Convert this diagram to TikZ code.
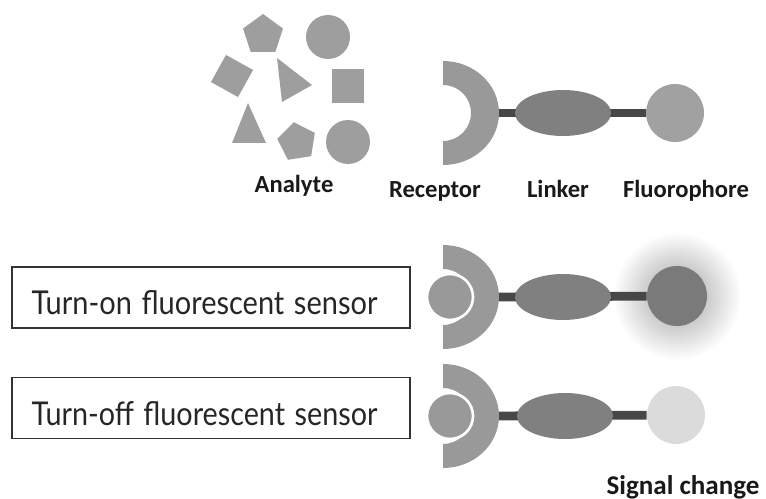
\documentclass[tikz,border=0pt]{standalone}
\usepackage{fontspec}
\setmainfont{Carlito}
\newfontfamily\boxfont{Lato}
\usetikzlibrary{shapes.geometric,backgrounds}

\begin{document}
\begin{tikzpicture}[x=0.02cm, y=0.02cm,
  ana/.style = {fill=black!38, inner sep=0pt},
  rec/.style = {fill=black!40},
  rod/.style = {line width=5pt, draw=black!72},
  lnk/.style = {ellipse, fill=black!50, minimum width=1.92cm, minimum height=0.92cm, inner sep=0pt},
  flu/.style = {circle, fill=black!37, minimum size=1.16cm, inner sep=0pt},
  bound/.style = {circle, fill=black!40, draw=white, line width=1.5pt, minimum size=0.92cm, inner sep=0pt},
  lab/.style = {anchor=base, font=\bfseries\fontsize{14}{16}\selectfont, text=black!90},
  sensorbox/.style = {draw=black!80, line width=0.8pt, text width=7.18cm, align=left, inner xsep=0.39cm, inner ysep=0pt,
    text height=0.96cm, text depth=0.26cm, font=\boxfont, text=black!85}]
  \useasboundingbox (0,0) rectangle (766,-499);

  % analytes
  \node[ana, regular polygon, regular polygon sides=5, minimum size=0.84cm] (pent1) at (263,-35) {};
  \node[ana, circle, minimum size=0.88cm] (circ1) at (328,-37) {};
  \node[ana, rectangle, minimum size=0.62cm, rotate=-29] (squ1) at (232,-76) {};
  \fill[ana] (277,-58) -- (312,-85) -- (282,-102) -- cycle;
  \node[ana, rectangle, minimum width=0.64cm, minimum height=0.68cm] (squ2) at (348,-86) {};
  \fill[ana] (248,-103) -- (266,-143) -- (232,-143) -- cycle;
  \node[ana, regular polygon, regular polygon sides=5, minimum size=0.8cm, rotate=9] (pent2) at (297,-142) {};
  \node[ana, circle, minimum size=0.88cm] (circ2) at (348,-142) {};

  % sensor alone
  \fill[rec] (443,-61) arc[start angle=90, end angle=-90, x radius=56, y radius=52]
    -- (443,-141) arc[start angle=-90, end angle=90, radius=28] -- cycle;
  \coordinate (rec0) at (496,-113);
  \node[lnk] (lnk0) at (563,-113) {};
  \node[flu] (flu0) at (675,-113) {};

  % turn-on
  \fill[rec] (443,-245) arc[start angle=90, end angle=-90, x radius=56, y radius=52]
    -- (443,-325) arc[start angle=-90, end angle=90, radius=28] -- cycle;
  \node[bound] (an1) at (450,-297) {};
  \coordinate (rec1) at (496,-297);
  \node[lnk] (lnk1) at (563,-297) {};
  \node[flu, fill=black!52, minimum size=1.2cm] (flu1) at (677,-296) {};

  % turn-off
  \fill[rec] (443,-364) arc[start angle=90, end angle=-90, x radius=56, y radius=52]
    -- (443,-444) arc[start angle=-90, end angle=90, radius=28] -- cycle;
  \node[bound] (an2) at (450,-416) {};
  \coordinate (rec2) at (496,-416);
  \node[lnk] (lnk2) at (565,-416) {};
  \node[flu, fill=black!14] (flu2) at (676,-415) {};

  \begin{scope}[on background layer]
    \shade[inner color=black!38, outer color=white] (flu1) circle (64);
    \draw[rod] (rec0) -- (flu0);
    \draw[rod] (rec1) -- (flu1);
    \draw[rod] (rec2) -- (flu2);
  \end{scope}

  % labels
  \node[lab] (analyte) at (294,-193) {Analyte};
  \node[lab] (receptor) at (435,-198) {Receptor};
  \node[lab] (linker) at (558,-198) {Linker};
  \node[lab] (fluoro) at (686,-198) {Fluorophore};
  \node[lab, font=\bfseries\fontsize{15.4}{17}\selectfont] (signal) at (683,-494) {Signal change};

  \node[sensorbox] (onbox) at (211,-297.5) {\resizebox{6.92cm}{0.48cm}{Turn-on fluorescent sensor}};
  \node[sensorbox] (offbox) at (211,-408) {\resizebox{6.92cm}{0.48cm}{Turn-off fluorescent sensor}};
\end{tikzpicture}
\end{document}
